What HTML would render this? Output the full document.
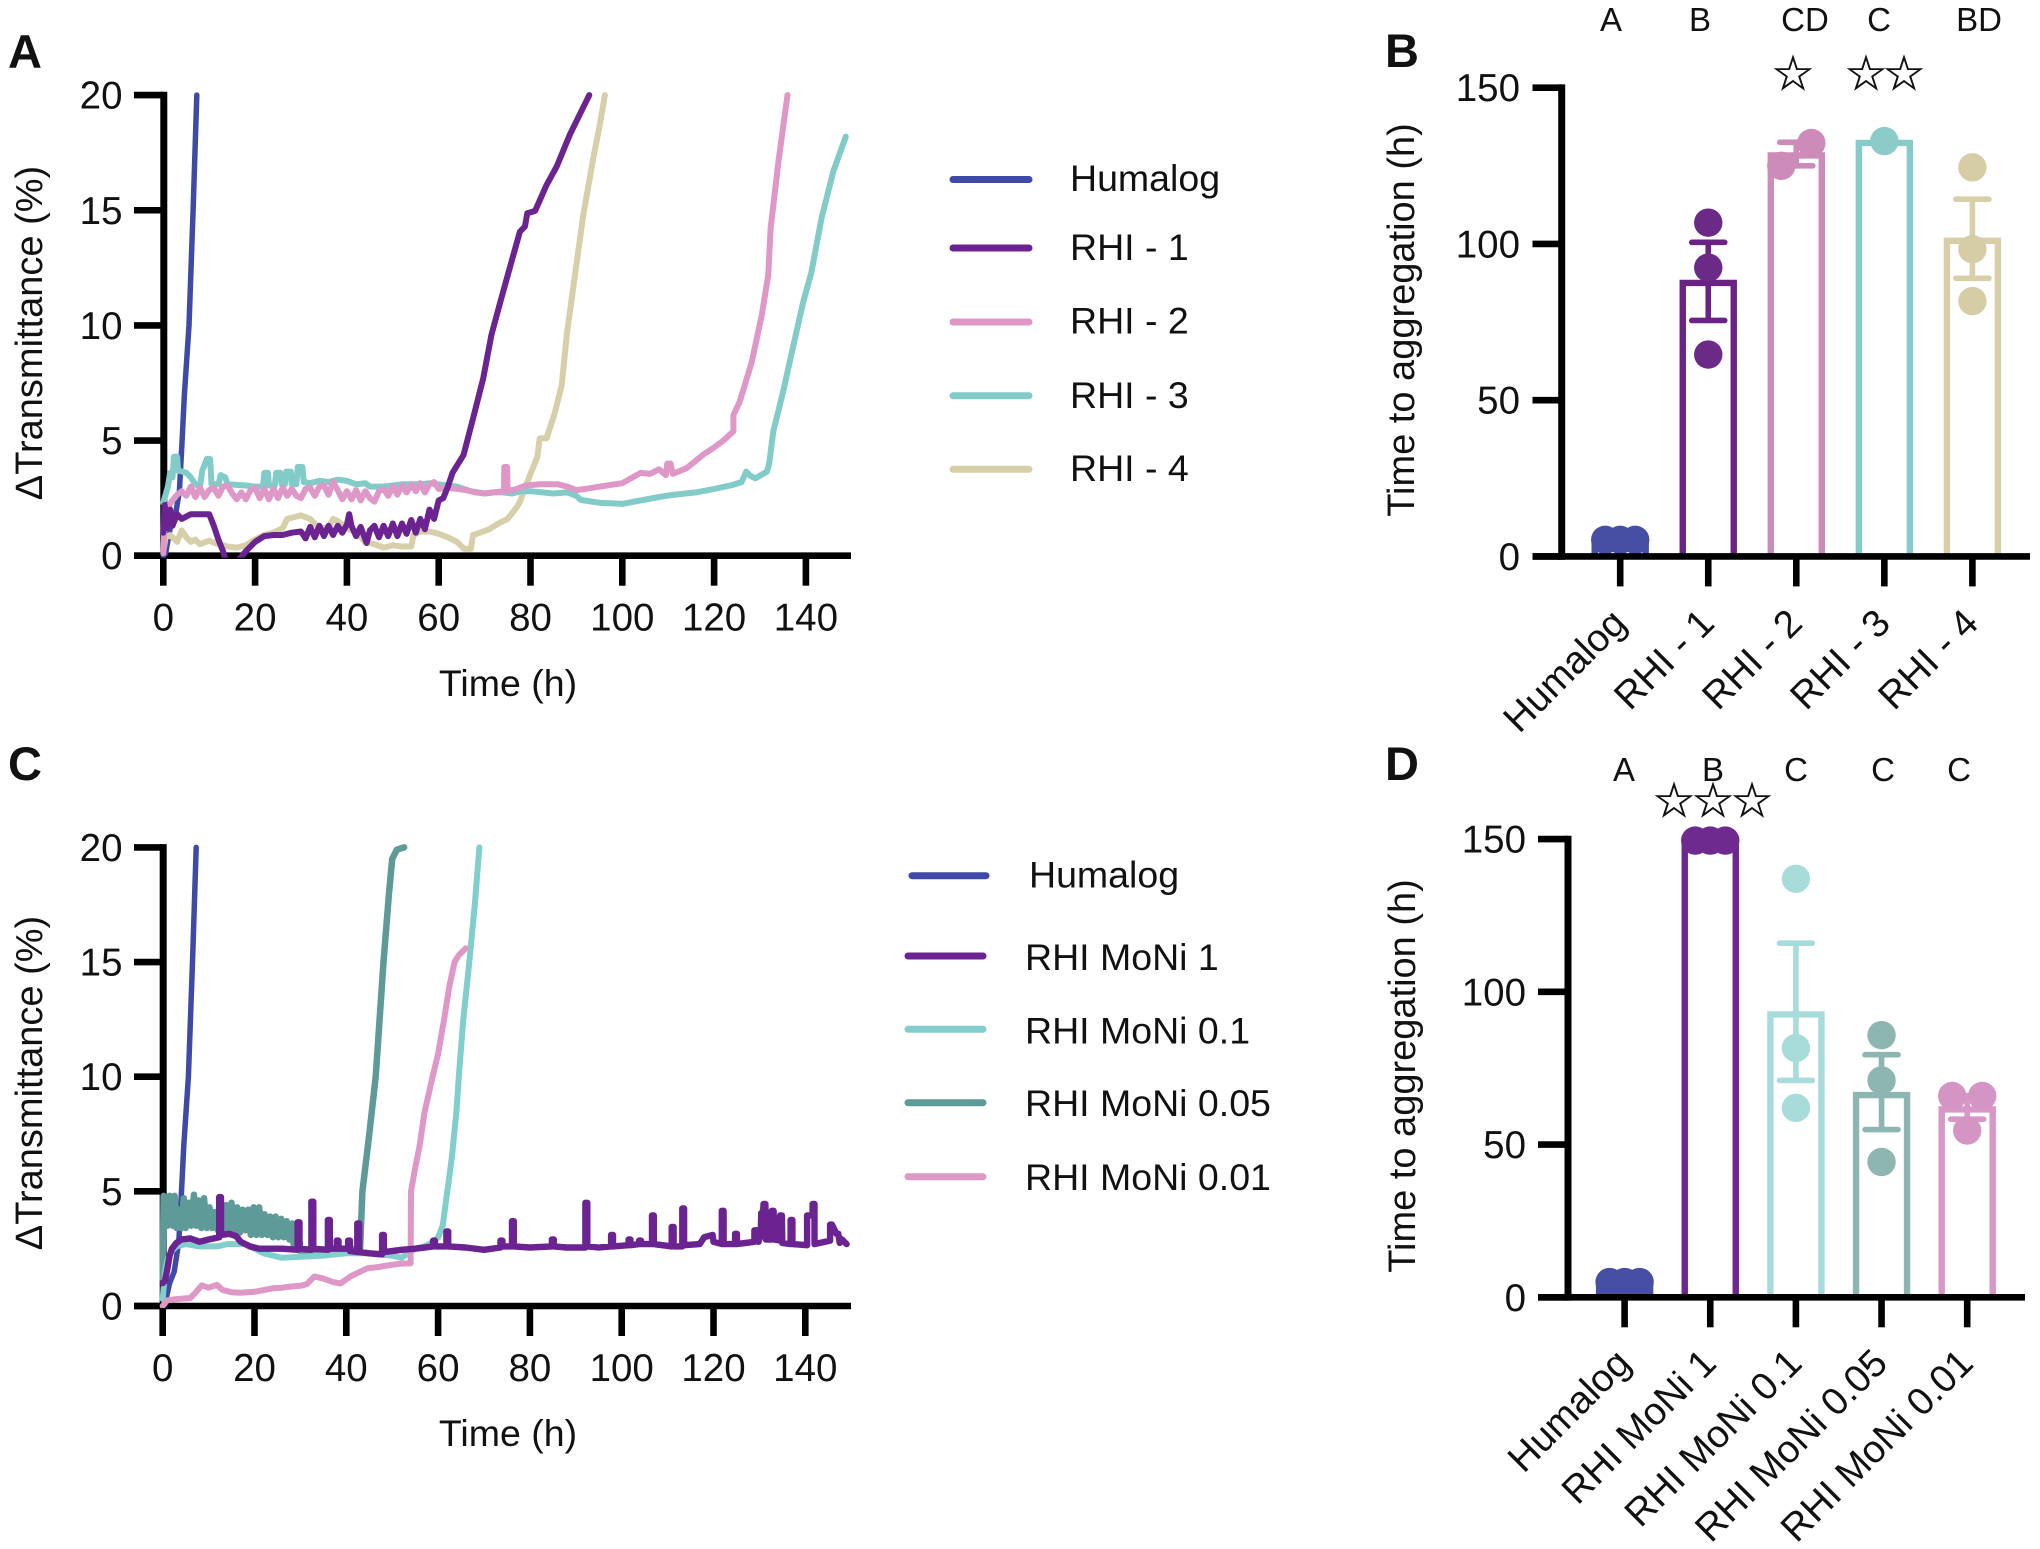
<!DOCTYPE html>
<html lang="en">
<head>
<meta charset="utf-8">
<title>Time to aggregation of insulin formulations</title>
<style>
html,body{margin:0;padding:0;background:#fff;}
svg{display:block;}
text{font-family:"Liberation Sans",Arial,sans-serif;fill:#111;font-size:37.5px;}
.panel{font-weight:bold;font-size:47px;}
.sig{font-size:33px;text-anchor:middle;}
.star{font-family:"DejaVu Sans",sans-serif;font-size:48px;text-anchor:middle;stroke:#111;stroke-width:0.6px;}
.tick{font-size:38.5px;}
.ytitle{font-size:38px;}
</style>
</head>
<body>
<svg id="fig" xmlns="http://www.w3.org/2000/svg" width="2040" height="1549" viewBox="0 0 2040 1549">
<rect width="2040" height="1549" fill="#fff"/>
<text class="panel" x="8" y="68">A</text>
<text class="panel" x="1385" y="67">B</text>
<text class="panel" x="8" y="780">C</text>
<text class="panel" x="1385" y="780">D</text>

<text class="ytitle" transform="translate(42,333) rotate(-90)" text-anchor="middle">ΔTransmittance (%)</text>
<text x="508" y="696" text-anchor="middle">Time (h)</text>
<text class="ytitle" transform="translate(42,1083) rotate(-90)" text-anchor="middle">ΔTransmittance (%)</text>
<text x="508" y="1446" text-anchor="middle">Time (h)</text>
<text class="ytitle" transform="translate(1414,320) rotate(-90)" text-anchor="middle">Time to aggregation (h)</text>
<text class="ytitle" transform="translate(1415,1076) rotate(-90)" text-anchor="middle">Time to aggregation (h)</text>

<g stroke-width="7" stroke-linecap="round">
<line x1="953" x2="1029" y1="179.5" y2="179.5" stroke="#3f4aa6"/>
<text x="1070" y="191">Humalog</text>
<line x1="953" x2="1029" y1="248" y2="248" stroke="#6a2390"/>
<text x="1070" y="260">RHI - 1</text>
<line x1="953" x2="1029" y1="322" y2="322" stroke="#df97c8"/>
<text x="1070" y="333.5">RHI - 2</text>
<line x1="953" x2="1029" y1="395.7" y2="395.7" stroke="#81cbc8"/>
<text x="1070" y="408">RHI - 3</text>
<line x1="953" x2="1029" y1="469.3" y2="469.3" stroke="#d6cfa9"/>
<text x="1070" y="481">RHI - 4</text>
</g>
<g stroke-width="7" stroke-linecap="round">
<line x1="912" x2="986" y1="875.7" y2="875.7" stroke="#3f4aa6"/>
<text x="1029" y="887.5">Humalog</text>
<line x1="908" x2="983" y1="956" y2="956" stroke="#6a2390"/>
<text x="1025" y="970">RHI MoNi 1</text>
<line x1="908" x2="983" y1="1029.3" y2="1029.3" stroke="#81cfcd"/>
<text x="1025" y="1043.3">RHI MoNi 0.1</text>
<line x1="908" x2="983" y1="1102.7" y2="1102.7" stroke="#5e9a97"/>
<text x="1025" y="1116">RHI MoNi 0.05</text>
<line x1="908" x2="983" y1="1176.7" y2="1176.7" stroke="#df97c8"/>
<text x="1025" y="1190">RHI MoNi 0.01</text>
</g>

<g>
<text class="sig" x="1611" y="31">A</text>
<text class="sig" x="1700" y="31">B</text>
<text class="sig" x="1805" y="31">CD</text>
<text class="sig" x="1879" y="31">C</text>
<text class="sig" x="1979" y="31">BD</text>
<text class="star" x="1793" y="90">☆</text>
<text class="star" x="1866" y="90">☆</text>
<text class="star" x="1904" y="90">☆</text>
</g>
<g>
<text class="sig" x="1624" y="781">A</text>
<text class="sig" x="1713" y="781">B</text>
<text class="sig" x="1796" y="781">C</text>
<text class="sig" x="1883" y="781">C</text>
<text class="sig" x="1959" y="781">C</text>
<text class="star" x="1674" y="817">☆</text>
<text class="star" x="1713" y="817">☆</text>
<text class="star" x="1752" y="817">☆</text>
</g>
</svg>
<script>
// ---- time-course tick labels ----
const timeTicks = [0,20,40,60,80,100,120,140];
const transmittanceTicks = [0,5,10,15,20];
const aggregationTicks = [0,50,100,150];

// ---- Panel A series: [time h, delta transmittance %] ----
const aHumalog = [[0,0],[0.5,0.1],[1.5,1.2],[2.5,1.6],[3.5,2.8],[4.1,5],[4.6,7],[5.6,10],[6.5,15],[7.3,20]];
const aRhi4 = [[0,0.2],[0.5,0.8],[1.5,0.9],[3,0.6],[4,1.1],[5,0.8],[6,0.6],[7,0.7],[8,0.5],[10,0.65],[12,0.5],[14,0.4],[16,0.35],[18,0.45],[20,0.7],[22,0.9],[24,1.0],[26,1.2],[27,1.6],[30,1.75],[32,1.6],[34,1.2],[36,1.2],[37,1.6],[38,1.5],[40,1.2],[42,1.0],[44,0.6],[46,0.5],[48,0.35],[50,0.45],[52,0.4],[54,0.4],[54.5,0.9],[56,1.05],[58,1.05],[60,0.95],[62,0.8],[64,0.6],[65.5,0.3],[67,0.3],[67.5,0.9],[69,1.0],[71,1.15],[73,1.4],[75,1.6],[77,2.1],[77.7,2.35],[79.9,3.5],[81.5,4.3],[82,5.1],[83.5,5.1],[85.3,6.2],[86.8,7.4],[87.9,9.6],[89.7,12.2],[91.5,14.8],[93.7,17.3],[95.1,18.7],[96.2,20]];
const aRhi3 = [[0,2.3],[1,3],[1.5,3.6],[2,3.4],[2.3,4.3],[3,4.3],[3.2,3.7],[5,3.6],[6,3.4],[7,3.1],[8,3],[8.5,3.7],[9.5,4.2],[10.2,4.2],[10.5,3.1],[12,3.1],[12.5,3.5],[13.5,3.4],[14,3.1],[18,3.05],[20,3.0],[21.7,3.0],[22,3.6],[22.8,3.6],[23,3.05],[24.3,3.05],[24.6,3.6],[25.5,3.6],[25.8,3.1],[26.5,3.1],[26.8,3.65],[27.8,3.65],[28,3.1],[29,3.1],[29.3,3.85],[30.3,3.85],[30.6,3.2],[32,3.15],[34,3.25],[36,3.2],[38,3.3],[40,3.25],[42,3.1],[44,3.15],[45,3.0],[48,3.0],[50,3.05],[52,3.1],[56,3.1],[58,3.15],[60,3.1],[64,3.0],[67,2.8],[70,2.7],[72,2.75],[74,2.75],[76,2.7],[78,2.8],[80,2.8],[85,2.7],[88,2.75],[90,2.6],[91,2.42],[95,2.3],[98,2.27],[100,2.25],[104,2.4],[108,2.55],[111,2.64],[116,2.75],[120,2.9],[124,3.07],[126,3.2],[127,3.65],[128,3.45],[129,3.36],[131.5,3.65],[132,4],[132.9,5.4],[135,7.1],[137.3,9.15],[139.4,11],[141.2,12.3],[143.4,14.65],[146,16.7],[148.7,18.2]];
const aRhi2 = [[0,0.1],[0.3,1.5],[1,2.1],[2,2.4],[3,2.65],[4,2.8],[5,2.6],[6,3.0],[7,2.55],[8,2.95],[9,2.55],[10,2.85],[11,2.95],[12,2.6],[13,3.0],[14,3.05],[15,2.7],[16,2.45],[17,2.75],[18,2.45],[19,2.85],[20,2.95],[21,2.5],[22,2.9],[23,2.45],[24,2.9],[25,2.5],[26,2.95],[27,2.6],[28,2.9],[29,2.6],[30,2.5],[31,2.9],[32,2.95],[33,2.6],[34,3.0],[35,3.05],[36,2.65],[37,3.2],[38,2.85],[39,2.45],[40,2.8],[41,2.45],[42,2.85],[43,2.4],[44,2.8],[45,2.5],[46,2.35],[47,2.8],[48,2.9],[49,2.6],[50,3.0],[51,2.65],[52,3.05],[53,2.75],[54,3.1],[55,2.8],[56,3.15],[57,2.75],[58,3.1],[59,3.2],[60,2.9],[62,2.95],[64,2.9],[66,2.85],[68,2.75],[70,2.7],[72,2.75],[74.2,2.8],[74.3,3.85],[74.9,3.85],[75,2.8],[77,2.9],[79,3.05],[82,3.1],[86,3.1],[88,3.0],[90,2.85],[93,2.93],[95,3.0],[100,3.15],[104,3.6],[106,3.55],[108,3.75],[109.5,3.5],[109.8,4.0],[110.5,4.0],[111,3.55],[114,3.8],[117.7,4.4],[120,4.7],[122,5],[124.2,5.4],[124.2,6.1],[125.6,6.7],[128.2,8.4],[130.4,10.45],[131.8,12.2],[132.3,14.2],[134,17.1],[136,20]];
const aRhi1 = [[0,1.0],[0.3,2.2],[0.8,1.2],[1.5,2],[2,1.3],[3,1.8],[4,1.6],[6,1.8],[8,1.8],[10,1.8],[11,1.3],[12,0.7],[13,0.2],[13.6,-0.2],[15,-0.6],[16.4,-0.2],[18,0.2],[20,0.6],[22,0.85],[24,0.9],[26,0.9],[28,1.0],[30,1.05],[31,0.75],[32,1.25],[33,0.8],[34,1.3],[35,0.85],[36,1.3],[37,0.9],[38,1.3],[39,1.0],[40,1.35],[40.5,1.8],[41,1.3],[42,0.85],[43,1.25],[44.3,0.55],[45,1.1],[46,1.3],[47,0.8],[48,1.3],[49,0.85],[50,1.4],[51,0.85],[52,1.4],[53,0.95],[54,1.55],[55,1.0],[56,1.6],[57,1.15],[58,2.0],[59,1.6],[60,2.4],[61,2.5],[62,3],[63,3.6],[65.4,4.37],[67.5,5.97],[69.7,7.7],[71.5,9.6],[73.4,11],[75.2,12.3],[77.7,14.07],[78.8,14.3],[79.3,14.87],[81,14.97],[83.5,16.1],[85.7,16.9],[88.6,18.3],[92.8,20]];

// ---- Panel C series ----
const cHumalog = [[0,0],[0.5,0.1],[1.5,1.0],[2.5,1.5],[3.5,2.8],[4.1,5],[4.6,7],[5.6,10],[6.5,15],[7.3,20]];
const cMoni005 = [[0,1.2],[0.2,4.8],[1,3.5],[1.5,4.8],[2.2,3.5],[2.6,4.8],[3,3.4],[3.6,4.2],[4,3.4],[4.6,4.7],[5,3.4],[5.7,4.5],[6.2,3.5],[6.8,4.85],[7.3,3.5],[7.8,4.6],[8.4,3.4],[9,4.7],[9.6,3.4],[10.2,4.3],[10.8,3.4],[11.4,4.1],[12,3.3],[12.6,4.2],[13.2,3.3],[13.8,4.4],[14.4,3.3],[15,4.5],[15.6,3.3],[16.2,4.3],[16.8,3.2],[17.4,4.2],[18,3.3],[18.6,4.2],[19.2,3.1],[19.8,4.3],[20.4,3.1],[21,4.3],[21.6,3.1],[22.2,4],[22.8,3.1],[23.4,3.9],[24,3],[24.6,3.9],[25.2,3],[25.8,3.8],[26.4,3],[27,3.7],[27.6,2.9],[28.2,3.6],[28.6,2.5],[29.5,3.5],[30,2.4],[35,2.4],[43,2.5],[43.5,5],[45,7.5],[46.4,10],[48.1,15],[49.3,18],[50,19.5],[51,19.9],[52.6,20]];
const cMoni01 = [[0,0.3],[0.5,1.5],[1,2],[2,2.4],[3,2.6],[5,2.7],[8,2.6],[10,2.6],[12,2.6],[14,2.7],[16,2.7],[18,2.7],[20,2.5],[22,2.3],[24,2.2],[26,2.1],[30,2.15],[35,2.2],[40,2.3],[45,2.3],[50,2.2],[52,2.1],[55,2.5],[57,2.6],[59,2.8],[60,3],[61,3.5],[62,5],[63,6.5],[64,8.5],[64.5,10],[65.5,12.5],[66.8,15],[68,17.5],[69,20]];
const cMoni001 = [[0,0],[1,0.25],[3,0.3],[6,0.35],[7,0.55],[8.5,0.9],[10,0.8],[11.8,0.92],[13,0.7],[15,0.6],[16.9,0.58],[20,0.62],[24,0.77],[26,0.8],[28,0.85],[30,0.88],[31.4,0.95],[33,1.28],[35,1.2],[37,1.05],[38.7,0.98],[41,1.3],[44.5,1.64],[47,1.7],[50,1.8],[52,1.85],[54,1.86],[54.1,5],[55,6],[56,7],[57,8.4],[58.8,10],[60,11],[61.3,12.5],[62.5,14],[63.6,15],[64.5,15.3],[66,15.6]];
const cMoni1 = [[0,1],[0.5,1.1],[1,1.6],[1.5,2.2],[2,2.5],[3,2.75],[4,2.9],[6,2.95],[8,2.8],[10,2.9],[12.3,3],[12.3,4.75],[12.7,4.75],[12.7,3.1],[14.5,3.15],[16,3.05],[17,2.8],[19,2.6],[21,2.5],[24,2.5],[26,2.5],[29.4,2.45],[29.4,3.65],[29.8,3.65],[29.8,2.5],[32.4,2.45],[32.4,4.55],[32.8,4.55],[32.8,2.5],[36,2.45],[36,3.75],[36.4,3.75],[36.4,2.5],[37.9,2.5],[37.9,2.85],[38.3,2.85],[38.3,2.5],[40.4,2.5],[40.4,2.85],[40.8,2.85],[40.8,2.4],[42.4,2.35],[42.4,3.6],[42.8,3.6],[42.8,2.35],[45,2.3],[47.8,2.25],[47.8,3.1],[48.2,3.1],[48.2,2.35],[52,2.45],[55,2.5],[58.9,2.6],[58.9,2.85],[59.3,2.85],[59.3,2.6],[61.8,2.6],[61.8,3.25],[62.2,3.25],[62.2,2.6],[66,2.55],[70,2.45],[73.6,2.55],[73.6,2.85],[74,2.85],[74,2.6],[76.1,2.6],[76.1,3.7],[76.5,3.7],[76.5,2.6],[80,2.55],[84.8,2.6],[84.8,2.9],[85.2,2.9],[85.2,2.6],[88,2.55],[92.1,2.55],[92.1,4.5],[92.5,4.5],[92.5,2.6],[95,2.55],[97.7,2.6],[97.7,3.1],[98.1,3.1],[98.1,2.6],[101.5,2.65],[101.5,2.9],[101.9,2.9],[101.9,2.65],[103.8,2.7],[103.8,2.85],[104.2,2.85],[104.2,2.7],[106.6,2.7],[106.6,3.95],[107,3.95],[107,2.7],[110.9,2.6],[110.9,3.45],[111.3,3.45],[111.3,2.6],[113.2,2.6],[113.2,4.25],[113.6,4.25],[113.6,2.65],[117,2.7],[118,3.0],[119.8,3.1],[120,2.8],[121.8,2.7],[121.8,4.15],[122.2,4.15],[122.2,2.7],[124.7,2.7],[124.7,3.15],[125.1,3.15],[125.1,2.7],[128.9,2.8],[128.9,3.3],[129.5,3.3],[129.8,2.8],[130.3,3.2],[130.4,4.05],[130.8,4.05],[130.9,4.45],[131.3,4.45],[131.4,2.9],[132.7,2.9],[132.7,4.15],[133.1,4.15],[133.2,2.9],[134.5,2.85],[134.5,3.95],[134.9,3.95],[135,2.75],[136.8,2.7],[136.8,3.75],[137.2,3.75],[137.2,2.7],[140.4,2.65],[140.4,3.95],[140.8,3.95],[141.6,3.95],[141.6,4.45],[142,4.45],[142,2.7],[145.4,2.85],[145.4,3.55],[145.8,3.55],[146.8,3.15],[147.2,3.15],[147.5,2.75],[148,2.9],[149,2.7]];

// ---- Panel B bars ----
const bCategories = ['Humalog','RHI - 1','RHI - 2','RHI - 3','RHI - 4'];
const bMeans = [5.3,87.5,128.3,132.3,101];
const bUpper = [5.3,100.5,132.5,132.3,114.3];
const bLower = [5.3,75.5,125,132.3,89];
const bPoints = [[5.3,5.3,5.3],[106.8,92.4,64.6],[125,132.3],[132.9],[124.5,98.3,81.7]];
const bBarColors = ['#474fa4','#6a2385','#cc8bb9','#84cbc9','#d8cfa8'];
const bDotColors = ['#474fa4','#6b2a85','#cc8bb9','#8dcbc9','#d6cda6'];

// ---- Panel D bars ----
const dCategories = ['Humalog','RHI MoNi 1','RHI MoNi 0.1','RHI MoNi 0.05','RHI MoNi 0.01'];
const dMeans = [5,150,92.6,66.2,61.5];
const dUpper = [5,150,115.9,79.4,66];
const dLower = [5,150,71,54.9,58.3];
const dPoints = [[5,5,5],[149.5,149.5,149.5],[137,81.6,62],[85.8,71,44.3],[65.9,65.9,54.6]];
const dBarColors = ['#474fa4','#6f2590','#a8dcdc','#8db5b1','#d897c5'];
const dDotColors = ['#474fa4','#6f2a90','#a8dcdb','#8db5b1','#d595c4'];

const NS = 'http://www.w3.org/2000/svg';
const fig = document.getElementById('fig');

function make(tag, parent, attrs, text) {
  const node = document.createElementNS(NS, tag);
  for (const k in attrs) node.setAttribute(k, attrs[k]);
  if (text !== undefined) node.textContent = text;
  parent.appendChild(node);
  return node;
}
function slug(s) { return String(s).toLowerCase().replace(/[^a-z0-9]+/g, '-'); }

const AXIS = 6.6;

function drawLineChart(id, cfg, seriesList) {
  const x = t => cfg.x0 + t * cfg.pxPerHour;
  const y = v => cfg.y0 - v * cfg.pxPerUnit;
  const g = make('g', fig, {});
  
  

  const yAxis = make('line', g, {x1:x(0)+0.5, x2:x(0)+0.5, y1:y(20)-AXIS/2, y2:y(0)+AXIS/2, stroke:'#000', 'stroke-width':AXIS+0.4});
  
  
  const xAxis = make('line', g, {x1:cfg.left, x2:cfg.right, y1:y(0), y2:y(0), stroke:'#000', 'stroke-width':AXIS});
  
  

  timeTicks.forEach(t => {
    const tick = make('line', g, {x1:x(t), x2:x(t), y1:y(0), y2:y(0)+30, stroke:'#000', 'stroke-width':AXIS});
    
    
    const label = make('text', g, {x:x(t), y:y(0)+75, 'text-anchor':'middle', 'class':'tick'}, t);
    
    
  });
  transmittanceTicks.forEach(v => {
    const tick = make('line', g, {x1:cfg.left, x2:x(0), y1:y(v), y2:y(v), stroke:'#000', 'stroke-width':AXIS});
    
    
    const label = make('text', g, {x:122.5, y:y(v)+13.5, 'text-anchor':'end', 'class':'tick'}, v);
    
    
  });

  const clip = make('clipPath', g, {id:'clip-' + id});
  make('rect', clip, {x:x(0)-6, y:y(20)-6, width:cfg.right-x(0)+10, height:y(0)-y(20)+8});

  seriesList.forEach(s => {
    const line = make('polyline', g, {
      points: s.data.map(p => x(p[0]).toFixed(1) + ',' + y(p[1]).toFixed(1)).join(' '),
      fill:'none', stroke:s.color, 'stroke-width':s.width || 6,
      'stroke-linejoin':'round', 'stroke-linecap':'round', 'clip-path':'url(#clip-' + id + ')'
    });
    
    
  });
}

function swarm(values) {
  // points closer than 9 h are placed side by side, as in the original swarm layout
  const sorted = values.slice().sort((a, b) => b - a);
  const out = [];
  let i = 0;
  while (i < sorted.length) {
    let j = i;
    while (j + 1 < sorted.length && sorted[i] - sorted[j + 1] < 9) j++;
    const n = j - i + 1;
    for (let k = 0; k < n; k++) {
      out.push({v: sorted[i + k], off: n === 1 ? 0 : 15 - 30 * k / (n - 1)});
    }
    i = j + 1;
  }
  return out;
}

function drawBarChart(id, cfg, cats, means, upper, lower, points, barColors, dotColors) {
  const x = i => cfg.catStart + i * cfg.catStep;
  const y = v => cfg.y0 - v * cfg.pxPerUnit;
  const g = make('g', fig, {});
  
  

  const yAxis = make('line', g, {x1:cfg.axisX, x2:cfg.axisX, y1:y(150)-AXIS/2, y2:y(0)+AXIS/2, stroke:'#000', 'stroke-width':AXIS+0.4});
  
  

  aggregationTicks.forEach(v => {
    const tick = make('line', g, {x1:cfg.left, x2:cfg.axisX, y1:y(v), y2:y(v), stroke:'#000', 'stroke-width':AXIS});
    
    
    const label = make('text', g, {x:cfg.labelRight, y:y(v)+13.5, 'text-anchor':'end', 'class':'tick'}, v);
    
    
  });

  cats.forEach((name, i) => {
    const cx = x(i);
    const half = 25.5;
    const bar = make('path', g, {
      d:'M' + (cx-half) + ' ' + y(0) + 'V' + y(means[i]) + 'H' + (cx+half) + 'V' + y(0),
      fill:'none', stroke:barColors[i], 'stroke-width':6.4, 'stroke-linejoin':'miter'
    });
    
    

    if (upper[i] !== lower[i]) {
      const err = make('path', g, {
        d:'M' + cx + ' ' + y(upper[i]) + 'V' + y(lower[i]) +
          'M' + (cx-16.5) + ' ' + y(upper[i]) + 'H' + (cx+16.5) +
          'M' + (cx-16.5) + ' ' + y(lower[i]) + 'H' + (cx+16.5),
        fill:'none', stroke:barColors[i], 'stroke-width':5.6, 'stroke-linecap':'round'
      });
      
      
    }
    swarm(points[i]).forEach((p, k) => {
      const dot = make('circle', g, {cx:cx + p.off, cy:y(p.v), r:14.2, fill:dotColors[i]});
      
      
    });
  });

  const xAxis = make('line', g, {x1:cfg.left, x2:cfg.right, y1:y(0), y2:y(0), stroke:'#000', 'stroke-width':AXIS});
  
  

  cats.forEach((name, i) => {
    const cx = x(i);
    const tick = make('line', g, {x1:cx, x2:cx, y1:y(0), y2:y(0)+30, stroke:'#000', 'stroke-width':AXIS});
    
    
    const ax = cx + 8, ay = y(0) + cfg.labelDrop;
    const label = make('text', g, {x:ax, y:ay, 'text-anchor':'end', 'class':'tick', transform:'rotate(-45 ' + ax + ' ' + ay + ')'}, name);
    
    
  });
}

drawLineChart('a', {x0:163.3, pxPerHour:4.59, y0:555.7, pxPerUnit:23.03, left:134, right:851}, [
  {name:'Humalog', data:aHumalog, color:'#3f4aa6', width:5.5},
  {name:'RHI - 4', data:aRhi4, color:'#d6cfa9'},
  {name:'RHI - 3', data:aRhi3, color:'#81cbc8'},
  {name:'RHI - 2', data:aRhi2, color:'#df97c8'},
  {name:'RHI - 1', data:aRhi1, color:'#6a2390'}
]);
drawLineChart('c', {x0:162.7, pxPerHour:4.59, y0:1306, pxPerUnit:22.93, left:134, right:851}, [
  {name:'Humalog', data:cHumalog, color:'#3f4aa6', width:5.5},
  {name:'RHI MoNi 0.05', data:cMoni005, color:'#5e9a97', width:6.5},
  {name:'RHI MoNi 0.1', data:cMoni01, color:'#81cfcd'},
  {name:'RHI MoNi 0.01', data:cMoni001, color:'#df97c8'},
  {name:'RHI MoNi 1', data:cMoni1, color:'#6a2390', width:6.4}
]);
drawBarChart('b', {catStart:1620.2, catStep:88.05, y0:556.4, pxPerUnit:3.125, axisX:1561.7, left:1532.5, right:2030, labelRight:1520, labelDrop:69},
  bCategories, bMeans, bUpper, bLower, bPoints, bBarColors, bDotColors);
drawBarChart('d', {catStart:1624.6, catStep:85.65, y0:1297.3, pxPerUnit:3.055, axisX:1568, left:1538, right:2025, labelRight:1526, labelDrop:68},
  dCategories, dMeans, dUpper, dLower, dPoints, dBarColors, dDotColors);
</script>
</body>
</html>
